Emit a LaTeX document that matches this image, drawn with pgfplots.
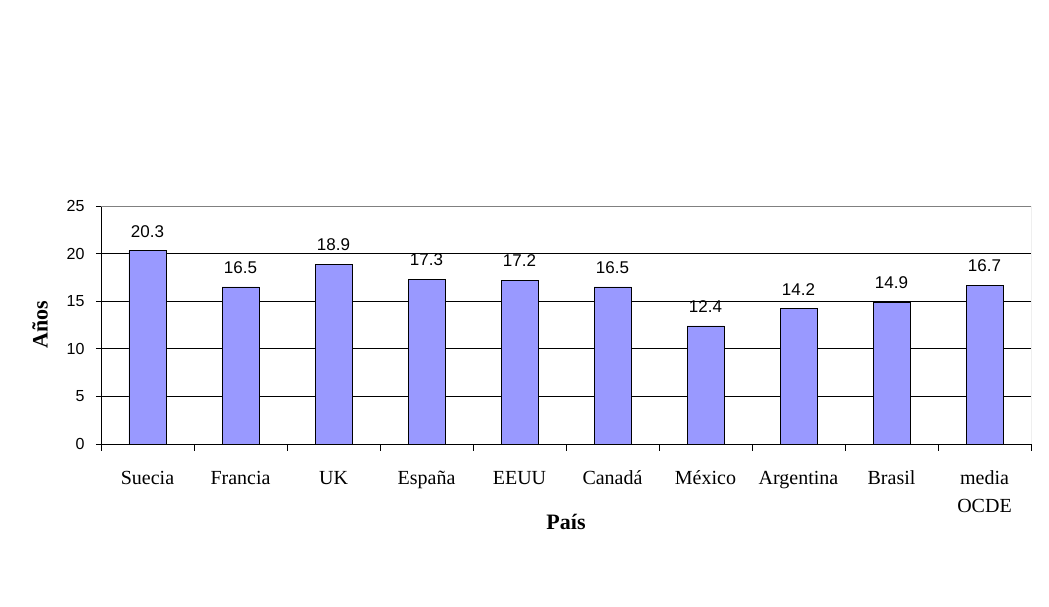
\documentclass[border=0pt]{standalone}
\usepackage{pgfplots}
\pgfplotsset{compat=1.18}
\usepackage{fontspec}
\setmainfont{Liberation Serif}
\newfontfamily\arial{Liberation Sans}
\definecolor{barfill}{RGB}{153,153,255}

\begin{document}
\begin{tikzpicture}[x=1bp,y=1bp]
\useasboundingbox (-101,-163) rectangle (948,444);
\begin{axis}[
    at={(0,0)}, anchor=south west,
    scale only axis,
    width=930bp, height=238bp,
    xmin=-0.5, xmax=9.5,
    ymin=0, ymax=25,
    axis x line*=bottom,
    axis y line*=left,
    axis line style={black, line width=0.8pt},
    xtick={0,...,9},
    xticklabels={\strut Suecia,\strut Francia,\strut UK,\strut España,\strut EEUU,\strut Canadá,\strut México,\strut Argentina,\strut Brasil,\strut media\\\strut OCDE},
    xticklabel style={font=\fontsize{20bp}{28bp}\selectfont, align=center, yshift=-12bp},
    major x tick style={draw=none},
    extra x ticks={-0.5,0.5,...,9.5},
    extra x tick labels={},
    extra x tick style={major tick length=7bp, major x tick style={draw=black, line width=0.8pt}, tick align=outside},
    ytick={0,5,...,25},
    major tick length=5bp,
    ytick style={black, line width=0.8pt},
    tick align=outside,
    yticklabel style={font=\arial\fontsize{16bp}{18bp}\selectfont, xshift=-8bp},
    /pgf/number format/assume math mode=true,
    ymajorgrids=true,
    grid style={black, line width=0.8pt},
    ylabel={\textbf{Años}},
    ylabel style={font=\fontsize{22bp}{24bp}\selectfont, at={(axis description cs:-0.0656,0.5)}, anchor=center},
    xlabel={\textbf{País}},
    xlabel style={font=\fontsize{22bp}{24bp}\selectfont, at={(axis description cs:0.5,0)}, anchor=center, yshift=-78bp},
    ybar,
    bar width=37bp,
    nodes near coords,
    nodes near coords style={font=\arial\fontsize{17bp}{19bp}\selectfont, anchor=south, inner sep=0pt, yshift=13bp,
      /pgf/number format/fixed, /pgf/number format/fixed zerofill, /pgf/number format/precision=1},
]
\addplot[fill=barfill, draw=black, line width=0.8pt] coordinates {
    (0,20.3) (1,16.5) (2,18.9) (3,17.3) (4,17.2) (5,16.5) (6,12.4) (7,14.2) (8,14.9) (9,16.7)
};
\draw[gray, line width=0.8pt] (rel axis cs:0,1) -- (rel axis cs:1,1) -- (rel axis cs:1,0);
\end{axis}
\end{tikzpicture}
\end{document}
